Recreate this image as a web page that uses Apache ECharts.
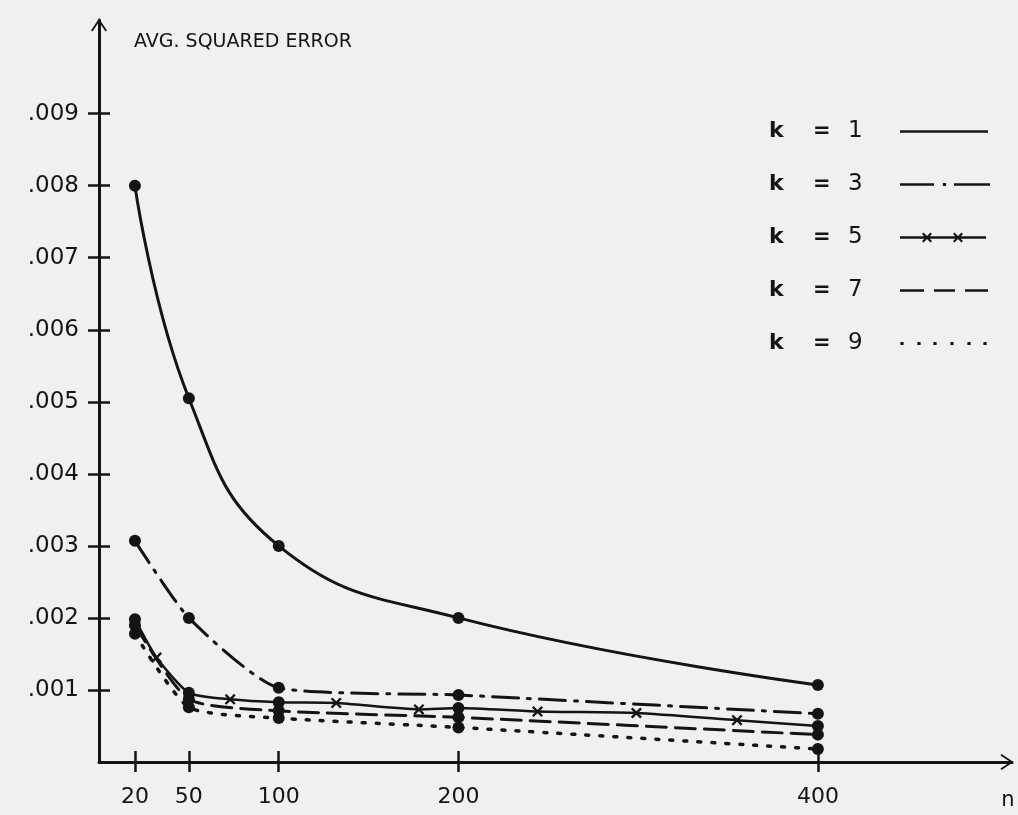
<!DOCTYPE html>
<html>
<head>
<meta charset="utf-8">
<script src="https://cdn.jsdelivr.net/npm/echarts@6/dist/echarts.min.js"></script>
<style>
html,body{margin:0;padding:0;background:#f0f0ee;}
#chart{width:1018px;height:815px;}
</style>
</head>
<body>
<div id="chart"></div>
<script>
// ---- data ----
const nValues = [20, 50, 100, 200, 400];
const xTickValues = [20, 50, 100, 200, 400];
const yTickValues = [0.001, 0.002, 0.003, 0.004, 0.005, 0.006, 0.007, 0.008, 0.009];
const yTickLabels = ['.001', '.002', '.003', '.004', '.005', '.006', '.007', '.008', '.009'];
const seriesNames = ['k = 1', 'k = 3', 'k = 5', 'k = 7', 'k = 9'];
const k1 = [0.00800, 0.00505, 0.00300, 0.00200, 0.00107];
const k3 = [0.00307, 0.00200, 0.00103, 0.00093, 0.00067];
const k5 = [0.00198, 0.00096, 0.00083, 0.00075, 0.00050];
const k7 = [0.00190, 0.00087, 0.00071, 0.00062, 0.00038];
const k9 = [0.00178, 0.00076, 0.00061, 0.00048, 0.00018];
// intermediate "x" marks drawn along the k = 5 curve
const k5MarkN = [32, 73, 132, 178, 244, 299, 355];
const k5MarkV = [0.00145, 0.00087, 0.00082, 0.00073, 0.00070, 0.00068, 0.00058];

const ink = '#141414';
const font = 'DejaVu Sans';
const xMark = 'path://M0 1.5 L1.5 0 L5 3.5 L8.5 0 L10 1.5 L6.5 5 L10 8.5 L8.5 10 L5 6.5 L1.5 10 L0 8.5 L3.5 5 Z';
const chevron = 'path://M0 9 L6 0 L12 9 L10.9 9.8 L6 2.4 L1.1 9.8 Z';

// legend sample icons (filled paths, 90 x 14 box)
const anchor = 'M0 0 L0.05 0 L0 0.05 Z M90 14 L89.95 14 L90 13.95 Z ';
function bar(a, b) { return 'M' + a + ' 5.7 L' + b + ' 5.7 L' + b + ' 8.3 L' + a + ' 8.3 Z '; }
function dot(c) { return 'M' + (c - 1.6) + ' 5.4 L' + (c + 1.6) + ' 5.4 L' + (c + 1.6) + ' 8.6 L' + (c - 1.6) + ' 8.6 Z '; }
function xs(c) {
  const p = [[0,1.5],[1.5,0],[5,3.5],[8.5,0],[10,1.5],[6.5,5],[10,8.5],[8.5,10],[5,6.5],[1.5,10],[0,8.5],[3.5,5]];
  return 'M' + p.map(q => (q[0] + c - 5) + ' ' + (q[1] + 2)).join(' L') + ' Z ';
}
const legendIcons = [
  'path://' + anchor + bar(0, 88),
  'path://' + anchor + bar(0, 34) + dot(44.5) + bar(54, 90),
  'path://' + anchor + bar(0, 86) + xs(27) + xs(58),
  'path://' + anchor + bar(0, 24) + bar(34, 55) + bar(65, 88),
  'path://' + anchor + dot(2) + dot(19) + dot(35) + dot(52) + dot(69) + dot(85)
];

function pairs(vals) { return nValues.map((n, i) => [n, vals[i]]); }
const k5Data = nValues.map((n, i) => ({ value: [n, k5[i]] }))
  .concat(k5MarkN.map((n, i) => ({ value: [n, k5MarkV[i]], symbol: xMark, symbolSize: 11 })))
  .sort((a, b) => a.value[0] - b.value[0]);

function lineSeries(name, data, dash, smooth, width) {
  return {
    name: name, type: 'line', data: data, smooth: smooth,
    symbol: 'circle', symbolSize: 12, showAllSymbol: true,
    itemStyle: { color: ink },
    lineStyle: { color: ink, width: width, type: dash, cap: 'round' },
    z: 3
  };
}

const option = {
  backgroundColor: '#f0f0ee',
  animation: false,
  textStyle: { fontFamily: font },
  title: {
    text: 'AVG. SQUARED ERROR', left: 129, top: 28,
    textStyle: { color: ink, fontSize: 19, fontWeight: 'normal', fontFamily: font }
  },
  grid: { left: 99, right: 6, top: 20, bottom: 53, containLabel: false },
  xAxis: [{
    type: 'value', min: 0, max: 508, position: 'bottom',
    name: 'n', nameLocation: 'end', nameGap: -4,
    nameTextStyle: { color: ink, fontSize: 21, align: 'center', verticalAlign: 'top', padding: [28, 0, 0, 0] },
    axisLine: { show: true, onZero: false, symbol: ['none', chevron], symbolSize: [16, 13], symbolOffset: [0, -5],
      lineStyle: { color: ink, width: 3 } },
    axisTick: { show: true, length: 10, customValues: xTickValues, lineStyle: { color: ink, width: 2.5 } },
    axisLabel: { show: true, customValues: xTickValues, margin: 24, color: ink, fontSize: 22, fontFamily: font,
      formatter: v => String(v) },
    splitLine: { show: false }
  }, {
    type: 'value', min: 0, max: 508, position: 'bottom',
    axisLine: { show: false, onZero: false },
    axisTick: { show: true, inside: true, length: 11, customValues: xTickValues, lineStyle: { color: ink, width: 2.5 } },
    axisLabel: { show: false },
    splitLine: { show: false }
  }],
  yAxis: [{
    type: 'value', min: 0, max: 0.0103, position: 'left',
    axisLine: { show: true, onZero: false, symbol: ['none', chevron], symbolSize: [16, 13], symbolOffset: [0, -5],
      lineStyle: { color: ink, width: 3 } },
    axisTick: { show: true, length: 11, customValues: yTickValues, lineStyle: { color: ink, width: 2.5 } },
    axisLabel: { show: true, customValues: yTickValues, margin: 20, color: ink, fontSize: 23, fontFamily: font,
      formatter: v => { const i = yTickValues.findIndex(t => Math.abs(t - v) < 1e-7); return i >= 0 ? yTickLabels[i] : ''; } },
    splitLine: { show: false }
  }, {
    type: 'value', min: 0, max: 0.0103, position: 'left',
    axisLine: { show: false, onZero: false },
    axisTick: { show: true, inside: true, length: 11, customValues: yTickValues, lineStyle: { color: ink, width: 2.5 } },
    axisLabel: { show: false },
    splitLine: { show: false }
  }],
  legend: {
    orient: 'vertical', right: 28, top: 120, padding: 0, itemGap: 30,
    itemWidth: 90, itemHeight: 14, align: 'right', selectedMode: false,
    data: seriesNames.map((nm, i) => ({ name: nm, icon: legendIcons[i] })),
    itemStyle: { color: ink, borderWidth: 0 },
    formatter: name => { const p = name.split(' = '); return '{k|' + p[0] + '}{e|=}{v|' + p[1] + '}'; },
    textStyle: {
      color: ink, fontSize: 21, fontFamily: font,
      rich: {
        k: { width: 44, align: 'left', fontSize: 22, fontWeight: 'bold', color: ink, fontFamily: font },
        e: { width: 35, align: 'left', fontSize: 21, fontWeight: 'bold', color: ink, fontFamily: font },
        v: { width: 47, align: 'left', fontSize: 23, color: ink, fontFamily: font }
      }
    }
  },
  series: [
    lineSeries(seriesNames[0], pairs(k1), 'solid', 0.45, 3),
    lineSeries(seriesNames[1], pairs(k3), [26, 9, 3, 9], 0.2, 3),
    lineSeries(seriesNames[2], k5Data, 'solid', 0.2, 2.5),
    lineSeries(seriesNames[3], pairs(k7), [20, 9], 0.2, 3),
    lineSeries(seriesNames[4], pairs(k9), [3, 11], 0.2, 3.5)
  ]
};

const chart = echarts.init(document.getElementById('chart'), null, { renderer: 'canvas' });
chart.setOption(option);
</script>
</body>
</html>
